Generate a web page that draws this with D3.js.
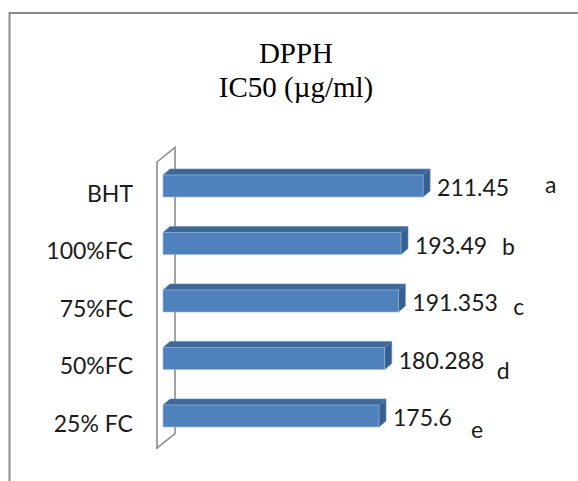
<!DOCTYPE html>
<html>
<head>
<meta charset="utf-8">
<script src="https://cdn.jsdelivr.net/npm/d3@7"></script>
<style>
  html, body { margin: 0; padding: 0; background: #ffffff; }
  svg { display: block; }
</style>
</head>
<body>
<svg id="chart" width="578" height="481"></svg>
<script>
// ---- data ----
const categories = ["BHT", "100%FC", "75%FC", "50%FC", "25% FC"];
const values = [211.45, 193.49, 191.353, 180.288, 175.6];
const valueLabels = ["211.45", "193.49", "191.353", "180.288", "175.6"];
const letters = ["a", "b", "c", "d", "e"];
const titleLines = ["DPPH", "IC50 (\u00b5g/ml)"];

// ---- layout (not data) ----
const letterOffsets = [[115, 7], [94, 11], [108, 14], [105, 20], [85, 22]];
const labelFont = "Lato, 'Liberation Sans', Arial, sans-serif";

const svg = d3.select("#chart");
const W = 578, H = 481;

// outer chart-area border (extends past right/bottom)
svg.append("rect")
  .attr("x", 9.5).attr("y", 13)
  .attr("width", W + 20).attr("height", H + 20)
  .attr("fill", "#ffffff")
  .attr("stroke", "#8c8c8c").attr("stroke-width", 2);

// title
svg.append("g").selectAll("text").data(titleLines).join("text")
  .attr("x", 296)
  .attr("y", (d, i) => 63 + i * 34)
  .attr("text-anchor", "middle")
  .attr("font-family", "'Liberation Serif', 'Times New Roman', serif")
  .attr("font-size", 29)
  .attr("fill", "#000000")
  .text(d => d);

// scales
const x = d3.scaleLinear().domain([0, 250]).range([163, 470.5]);
const y = d3.scalePoint().domain(categories).range([157.25, 444.75]).padding(0.5);
const barH = 22;
const dx = 7, dy = -6;          // bar depth offset
const wdx = 18, wdy = -14.5;    // wall depth offset

// side wall (edge-on parallelogram)
const wallX = 157, wallTop = 162, wallBot = 448;
svg.append("path")
  .attr("d", `M${wallX},${wallTop} L${wallX + wdx},${wallTop + wdy} L${wallX + wdx},${wallBot + wdy} L${wallX},${wallBot} Z`)
  .attr("fill", "#ffffff")
  .attr("stroke", "#8c8c8c")
  .attr("stroke-width", 1.6)
  .attr("stroke-linejoin", "miter");

// bars
const rows = categories.map((c, i) => ({ c, v: values[i], lbl: valueLabels[i], letter: letters[i], off: letterOffsets[i] }));
const g = svg.append("g").selectAll("g").data(rows).join("g");

g.each(function(d) {
  const el = d3.select(this);
  const x0 = x(0), x1 = x(d.v);
  const yc = y(d.c);
  const y0 = yc - barH / 2, y1 = yc + barH / 2;
  // top face
  el.append("path")
    .attr("d", `M${x0},${y0} L${x0 + dx},${y0 + dy} L${x1 + dx},${y0 + dy} L${x1},${y0} Z`)
    .attr("fill", "#3f6797").attr("stroke", "#5b86bb").attr("stroke-width", 0.6);
  // side face
  el.append("path")
    .attr("d", `M${x1},${y0} L${x1 + dx},${y0 + dy} L${x1 + dx},${y1 + dy} L${x1},${y1} Z`)
    .attr("fill", "#37608f").attr("stroke", "#5b86bb").attr("stroke-width", 0.6);
  // front face
  el.append("rect")
    .attr("x", x0).attr("y", y0)
    .attr("width", x1 - x0).attr("height", barH)
    .attr("fill", "#4f81bd").attr("stroke", "#9bbbe0").attr("stroke-width", 0.6);
  // value label
  el.append("text")
    .attr("x", x1 + dx + 7)
    .attr("y", yc + 10)
    .attr("font-family", labelFont)
    .attr("font-size", 23)
    .attr("fill", "#1a1a1a")
    .text(d.lbl);
  // significance letter
  el.append("text")
    .attr("x", x1 + dx + d.off[0])
    .attr("y", yc + d.off[1])
    .attr("font-family", labelFont)
    .attr("font-size", 23)
    .attr("fill", "#1a1a1a")
    .text(d.letter);
});

// category labels
svg.append("g").selectAll("text").data(categories).join("text")
  .attr("x", 133)
  .attr("y", d => y(d) + 15.5)
  .attr("text-anchor", "end")
  .attr("font-family", labelFont)
  .attr("font-size", 23)
  .attr("fill", "#1a1a1a")
  .text(d => d);
</script>
</body>
</html>
